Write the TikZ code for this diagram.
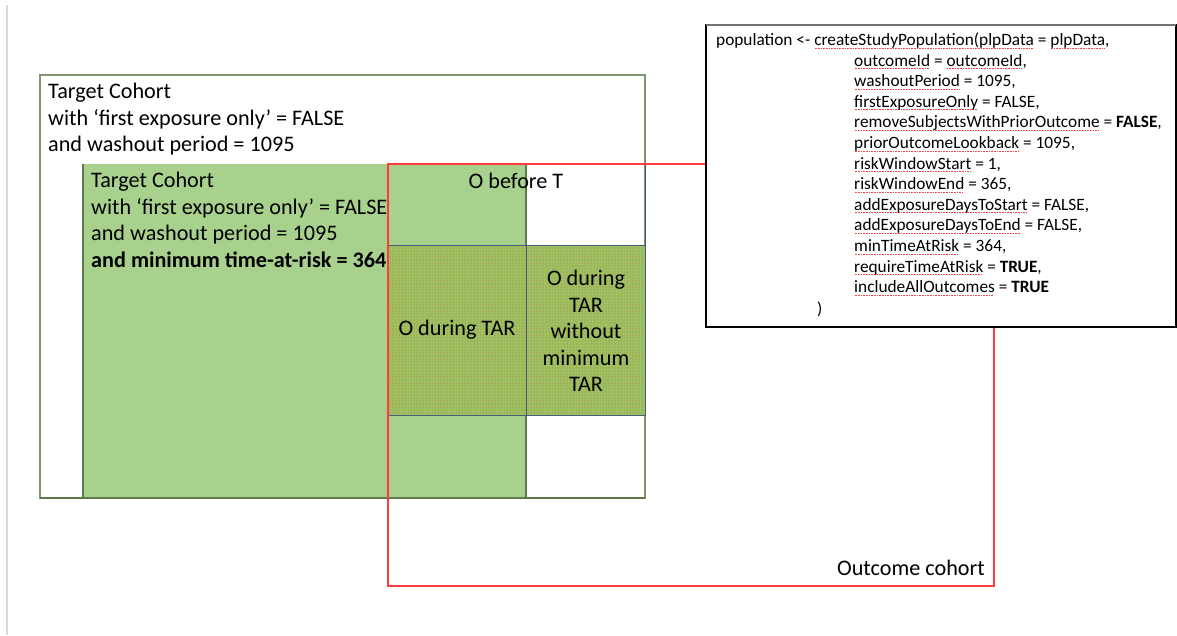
\documentclass[tikz,border=0pt]{standalone}
\usepackage{fontspec}
\setmainfont{Carlito}
\usetikzlibrary{patterns}
\definecolor{cgreen}{HTML}{A9D18E}
\definecolor{cgborder}{HTML}{5E7A4C}
\definecolor{cred}{HTML}{FF3B3B}
\definecolor{cblue}{HTML}{34496E}
\definecolor{chatch}{HTML}{98C462}
\newsavebox\rwbox
\newcommand\rw[1]{\sbox\rwbox{#1}\rlap{\textcolor{red!75}{\raisebox{-3pt}{\hbox to \wd\rwbox{\leaders\hbox to 1.6pt{\hss\rule{0.9pt}{0.9pt}\hss}\hfill}}}}\usebox\rwbox}
\begin{document}
\begin{tikzpicture}[x=1pt,y=-1pt,
  lbl/.style={inner sep=0pt,font=\fontsize{22.2}{26.5}\selectfont},
  code/.style={inner sep=0pt,font=\fontsize{17.3}{20.6}\selectfont,anchor=base west}]
\useasboundingbox (0,0) rectangle (1177,635);
\fill[white] (0,0) rectangle (1177,635);
% left gray line
\draw[black!15,line width=1.2pt] (7,5) -- (7,635);
% outer target cohort
\draw[cgborder!80,line width=1.2pt,fill=white] (40,75) rectangle (645,498);
% inner green
\fill[cgreen] (83,164) rectangle (526,498);
\draw[cgborder,line width=1.2pt] (83,498) -- (83,164);
\draw[cgborder,line width=1.2pt] (526,164) -- (526,498);
\draw[cgborder,line width=1.2pt] (40,498) -- (645,498);
% hatched region
\fill[chatch] (388,245) rectangle (645,415);
\fill[pattern=dots,pattern color=red!80] (388,245) rectangle (645,415);
\draw[cblue!90,line width=1pt] (388,245) rectangle (645,415);
\draw[cblue!90,line width=1pt] (526,245) -- (526,415);
\draw[cblue!90,line width=1pt] (645,164) -- (645,245);
% outcome cohort red box
\draw[cred,line width=1.2pt] (388,164) rectangle (994,586);
% texts
\node[lbl,anchor=north west,align=left] (t1) at (48,83) {Target Cohort\\with ‘first exposure only’ = FALSE\\and washout period = 1095};
\node[lbl,anchor=north west,align=left] (t2) at (91,172) {Target Cohort\\with ‘first exposure only’ = FALSE\\and washout period = 1095\\\textbf{and minimum time-at-risk = 364}};
\node[lbl] (ob) at (516,181) {O before T};
\node[lbl] (od) at (457,330) {O during TAR};
\node[lbl,align=center] (odm) at (586,331) {O during\\TAR\\without\\minimum\\TAR};
\node[lbl,anchor=east] (oc) at (985,568) {Outcome cohort};
% code box
\fill[white] (706,25) rectangle (1176,327);
\draw[black,line width=1.3pt] (706,25) rectangle (1176,327);
\draw[black!55,line width=2.2pt] (706,25) -- (1176,25);
\node[code] (c0) at (716,45.5) {population <- \rw{createStudyPopulation(plpData} = \rw{plpData},};
\node[code] (c1) at (854,66.1) {\rw{outcomeId} = \rw{outcomeId},};
\node[code] (c2) at (854,86.7) {\rw{washoutPeriod} = 1095,};
\node[code] (c3) at (854,107.3) {\rw{firstExposureOnly} = FALSE,};
\node[code] (c4) at (854,127.9) {\rw{removeSubjectsWithPriorOutcome} = \textbf{FALSE},};
\node[code] (c5) at (854,148.5) {\rw{priorOutcomeLookback} = 1095,};
\node[code] (c6) at (854,169.1) {\rw{riskWindowStart} = 1,};
\node[code] (c7) at (854,189.7) {\rw{riskWindowEnd} = 365,};
\node[code] (c8) at (854,210.3) {\rw{addExposureDaysToStart} = FALSE,};
\node[code] (c9) at (854,230.9) {\rw{addExposureDaysToEnd} = FALSE,};
\node[code] (c10) at (854,251.5) {\rw{minTimeAtRisk} = 364,};
\node[code] (c11) at (854,272.1) {\rw{requireTimeAtRisk} = \textbf{TRUE},};
\node[code] (c12) at (854,292.7) {\rw{includeAllOutcomes} = \textbf{TRUE}};
\node[code] (c13) at (817,314.5) {)};
\end{tikzpicture}
\end{document}
